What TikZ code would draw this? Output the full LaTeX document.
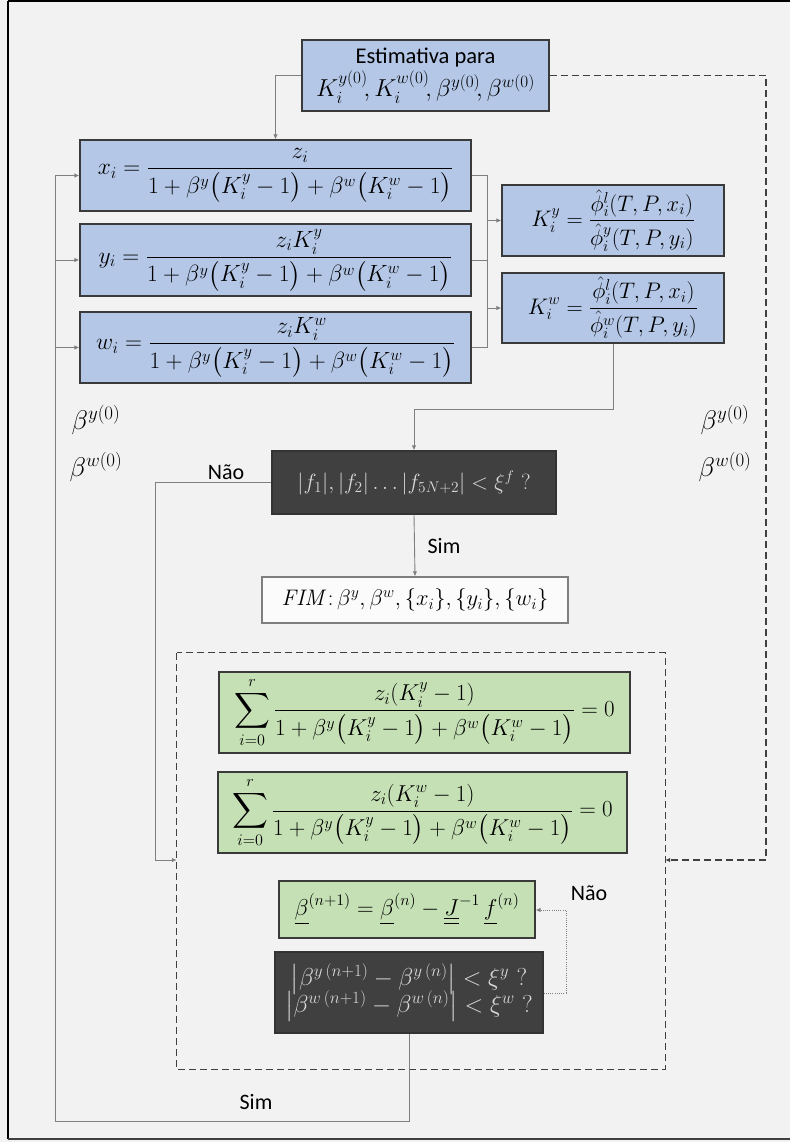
\documentclass[tikz,border=0pt]{standalone}
\usepackage{fix-cm}
\usepackage{exscale}
\usepackage[no-math]{fontspec}
\newfontfamily\carlito{Carlito}
\usetikzlibrary{arrows.meta,calc}
\definecolor{bg}{HTML}{F2F2F2}
\definecolor{blu}{HTML}{B4C7E7}
\definecolor{grn}{HTML}{C5E0B4}
\definecolor{drk}{HTML}{404040}
\definecolor{edge}{HTML}{3A3A3A}
\definecolor{conn}{HTML}{7F7F7F}
\definecolor{lighttxt}{HTML}{D9D9D9}
\tikzset{
  box/.style={draw=edge, line width=1.3pt, inner sep=0pt, align=center},
  bluebox/.style={box, fill=blu},
  greenbox/.style={box, fill=grn},
  darkbox/.style={box, fill=drk, draw=black!80, text=lighttxt},
  fimbox/.style={box, fill=white!70!bg, draw=conn},
  mathfont/.style={font=\fontsize{23.5}{28}\selectfont},
  mathmid/.style={font=\fontsize{22.5}{27}\selectfont},
  sidefont/.style={font=\fontsize{27}{32}\selectfont},
  lbl/.style={font=\carlito\fontsize{22}{26}\selectfont, inner sep=0pt},
  conline/.style={draw=conn, line width=0.9pt},
  arr/.style={-{Latex[length=5pt,width=4.5pt]}},
  dashline/.style={draw=drk, line width=1.2pt, dash pattern=on 7pt off 4pt},
  dotline/.style={draw=conn, line width=0.9pt, dash pattern=on 1pt off 1.2pt},
}
\begin{document}
\begin{tikzpicture}[x=1pt,y=-1pt]
\fill[bg] (0,0) rectangle (790,1142);
\useasboundingbox (0,0) rectangle (790,1142);
% frame
\draw[black, line width=2pt] (8,1) -- (790,1);
\draw[black, line width=1.6pt] (8,1) -- (8,1139);
\draw[drk, line width=2pt] (8,1139) -- (790,1139);

% nodes
\node[bluebox, minimum width=247pt, minimum height=71pt] (top) at (425.5,75.5)
  {{\carlito\fontsize{22.5}{26}\selectfont Estimativa para}\\[3pt]
   {\fontsize{24.5}{28}\selectfont $K_i^{y(0)}\!, K_i^{w(0)}\!, \beta^{y(0)}\!, \beta^{w(0)}$}};

\node[bluebox, mathfont, minimum width=391pt, minimum height=71pt] (xi) at (275.5,175.5)
  {$\displaystyle x_i=\frac{z_i}{1+\beta^y\bigl(K_i^y-1\bigr)+\beta^w\bigl(K_i^w-1\bigr)}$};
\node[bluebox, mathfont, minimum width=391pt, minimum height=72pt] (yi) at (275.5,260)
  {$\displaystyle y_i=\frac{z_iK_i^y}{1+\beta^y\bigl(K_i^y-1\bigr)+\beta^w\bigl(K_i^w-1\bigr)}$};
\node[bluebox, mathfont, minimum width=391pt, minimum height=71pt] (wi) at (275.5,347.5)
  {$\displaystyle w_i=\frac{z_iK_i^w}{1+\beta^y\bigl(K_i^y-1\bigr)+\beta^w\bigl(K_i^w-1\bigr)}$};

\node[bluebox, mathmid, minimum width=222pt, minimum height=71pt] (Ky) at (613,220.5)
  {$\displaystyle K_i^y=\frac{\hat{\phi}_i^l(T,P,x_i)}{\hat{\phi}_i^y(T,P,y_i)}$};
\node[bluebox, mathmid, minimum width=222pt, minimum height=70pt] (Kw) at (613,308)
  {$\displaystyle K_i^w=\frac{\hat{\phi}_i^l(T,P,x_i)}{\hat{\phi}_i^w(T,P,y_i)}$};

\node[darkbox, font=\fontsize{22}{26}\selectfont, minimum width=284pt, minimum height=63pt] (fb) at (414,482.5)
  {$|f_1|,|f_2|\ldots|f_{5N+2}|<\xi^f$ ?};

\node[fimbox, font=\fontsize{22.5}{26}\selectfont, minimum width=306pt, minimum height=46pt] (fim) at (415,600)
  {$\mathit{FIM}\colon \beta^y, \beta^w, \{x_i\}, \{y_i\}, \{w_i\}$};

\node[draw=none, minimum width=488pt, minimum height=416pt, inner sep=0pt] (dbox) at (421,861) {};
\draw[dashline] (dbox.north west) rectangle (dbox.south east);

\node[greenbox, font=\fontsize{23}{27}\selectfont, minimum width=411pt, minimum height=81pt] (g1) at (424.5,712.5)
  {$\displaystyle \sum_{i=0}^{r}\frac{z_i(K_i^y-1)}{1+\beta^y\bigl(K_i^y-1\bigr)+\beta^w\bigl(K_i^w-1\bigr)}=0$};
\node[greenbox, font=\fontsize{23}{27}\selectfont, minimum width=409pt, minimum height=81pt] (g2) at (422.5,812.5)
  {$\displaystyle \sum_{i=0}^{r}\frac{z_i(K_i^w-1)}{1+\beta^y\bigl(K_i^y-1\bigr)+\beta^w\bigl(K_i^w-1\bigr)}=0$};

\node[greenbox, font=\fontsize{23}{27}\selectfont, minimum width=256pt, minimum height=57pt] (bb) at (407,909.5)
  {$\underline{\beta}^{(n+1)}=\underline{\beta}^{(n)}-\underline{\underline{J}}^{-1}\,\underline{f}^{(n)}$};

\node[darkbox, font=\fontsize{24.5}{29}\selectfont, minimum width=268pt, minimum height=81pt] (d2) at (409,992.5)
  {$\bigl|\beta^{y\,(n+1)}-\beta^{y\,(n)}\bigr|<\xi^y$ ?\\[-4pt]
   $\bigl|\beta^{w\,(n+1)}-\beta^{w\,(n)}\bigr|<\xi^w$ ?};

% side labels
\node[sidefont, inner sep=0pt] (ly) at (96,420) {$\beta^{y(0)}$};
\node[sidefont, inner sep=0pt] (lw) at (96,467) {$\beta^{w(0)}$};
\node[sidefont, inner sep=0pt] (ry) at (725,420) {$\beta^{y(0)}$};
\node[sidefont, inner sep=0pt] (rw) at (725,467) {$\beta^{w(0)}$};

\node[lbl] (nao1) at (226,472) {Não};
\node[lbl] (sim1) at (444,546) {Sim};
\node[lbl] (nao2) at (589,893) {Não};
\node[lbl] (sim2) at (256,1102) {Sim};

% coordinates
\coordinate (busT) at (487,175.5);
\coordinate (busM) at (487,260);
\coordinate (busB) at (487,347.5);
\coordinate (busKy) at (487,220.5);
\coordinate (busKw) at (487,308);
\coordinate (kwd) at (613,409);
\coordinate (nL) at (155,482.5);
\coordinate (nB) at (155,860);
\coordinate (rT) at (766,75.5);
\coordinate (rB) at (766,860);
\coordinate (sB) at (409,1121);
\coordinate (lB) at (55,1121);
\coordinate (lx) at (55,175.5);
\coordinate (ly2) at (55,260);
\coordinate (lw2) at (55,347.5);
\coordinate (dR) at (566,993);
\coordinate (dT) at (566,910);

% connectors
\draw[conline, arr] (top.west) -| (xi.north);
\draw[dashline, arr] (top.east) -- (rT) -- (rB) -- (rB -| dbox.east);
\draw[conline] (xi.east) -- (busT) -- (busB) -- (wi.east);
\draw[conline] (yi.east) -- (busM);
\draw[conline, arr] (busKy) -- (Ky.west);
\draw[conline, arr] (busKw) -- (Kw.west);
\draw[conline, arr] (Kw.south) -- (kwd) -| (fb.north);
\draw[conline, arr] (fb.south) -- (fim.north);
\draw[conline] (fb.west) -- (nL) -- (nB);
\draw[conline, arr] (nB) -- (nB -| dbox.west);
\draw[dotline, arr] (d2.east |- dR) -- (dR) -- (dT) -- (dT -| bb.east);
\draw[conline] (d2.south) -- (sB) -- (lB) -- (lx);
\draw[conline, arr] (lx) -- (xi.west);
\draw[conline, arr] (ly2) -- (yi.west);
\draw[conline, arr] (lw2) -- (wi.west);
\end{tikzpicture}
\end{document}
